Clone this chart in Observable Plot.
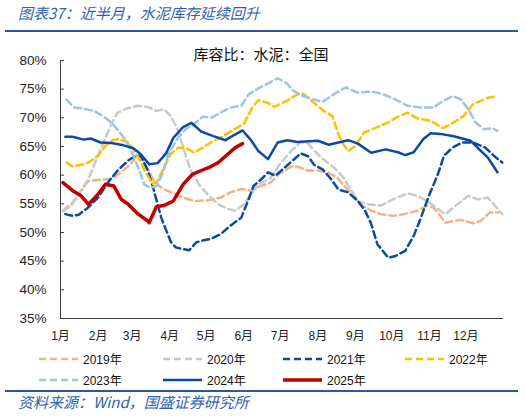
<!DOCTYPE html>
<html><head><meta charset="utf-8">
<script src="https://cdn.jsdelivr.net/npm/d3@7"></script>
<script src="https://cdn.jsdelivr.net/npm/@observablehq/plot@0.6"></script>
<style>
body{margin:0;width:526px;height:416px;position:relative;background:#fff;overflow:hidden;font-family:"Liberation Sans","Noto Sans CJK SC",sans-serif}
#title{position:absolute;left:18px;top:2px;font-family:"Noto Sans CJK SC",sans-serif;font-size:15px;font-style:italic;color:#2F62AE;line-height:22px;white-space:nowrap}
.rule{position:absolute;left:5px;width:513px;height:2px;background:#2F5597}
#chart{position:absolute;left:0;top:33px}
.item{position:absolute;height:16px;display:flex;align-items:center;font-size:12px;color:#111;white-space:nowrap}
.item svg{margin-right:5px}
#source{position:absolute;left:18px;top:391px;font-family:"Noto Sans CJK SC",sans-serif;font-size:15px;font-style:italic;color:#2F62AE;line-height:22px;white-space:nowrap}
</style></head>
<body>
<div id="title"></div>
<div class="rule" style="top:30px"></div>
<div id="chart"></div>
<div id="legend"></div>
<div class="rule" style="top:390px"></div>
<div id="source"></div>
<script>
const titleText = "图表37：近半月，水泥库存延续回升";
const subtitleText = "库容比：水泥：全国";
const sourceText = "资料来源：Wind，国盛证券研究所";
const yTicks = [35,40,45,50,55,60,65,70,75,80];
const monthTicks = [0,31,59,90,120,151,181,212,243,273,304,334];
const monthLabels = ["1月","2月","3月","4月","5月","6月","7月","8月","9月","10月","11月","12月"];
const seriesNames = ["2019年","2020年","2021年","2022年","2023年","2024年","2025年"];

// [day of year, 库容比 %]
const s2019 = [[2,53.8],[10,55.2],[17,57.3],[23,59.0],[33,59.2],[42,59.4],[48,60.2],[56,61.6],[62,63.1],[66,63.4],[72,61.0],[77,59.0],[83,57.8],[91,57.0],[101,56.1],[110,55.5],[121,55.6],[132,56.1],[140,57.0],[149,57.6],[157,57.3],[165,58.1],[173,58.7],[180,60.2],[190,61.5],[195,61.5],[204,60.8],[212,60.8],[220,60.5],[228,59.6],[235,57.8],[242,56.4],[247,54.9],[256,53.8],[264,53.2],[274,52.9],[283,53.2],[294,53.8],[302,54.7],[307,54.4],[313,52.9],[317,51.7],[324,52.0],[330,52.2],[340,51.6],[346,52.0],[354,53.5],[361,53.5]];
const s2020 = [[2,53.7],[9,54.7],[15,56.7],[23,59.3],[29,62.5],[36,66.0],[42,68.9],[47,70.9],[54,71.6],[64,72.1],[72,71.9],[79,71.2],[85,71.5],[91,70.3],[97,67.7],[102,64.2],[107,61.0],[114,58.4],[121,56.7],[130,54.9],[138,54.1],[144,53.8],[151,54.9],[159,57.3],[163,58.4],[167,58.8],[173,59.5],[181,62.0],[190,64.2],[198,65.8],[204,65.5],[209,64.3],[214,63.2],[220,62.2],[227,61.0],[233,59.6],[239,57.5],[245,55.5],[253,54.9],[264,54.7],[274,55.8],[286,56.8],[294,56.4],[302,55.5],[311,54.1],[317,53.2],[327,54.9],[336,56.4],[344,55.8],[352,56.1],[357,54.9],[364,53.2]];
const s2021 = [[4,53.2],[10,52.9],[15,53.1],[23,54.4],[31,56.1],[39,58.7],[47,60.8],[56,62.6],[62,63.4],[66,63.4],[72,60.8],[77,57.3],[83,52.6],[85,51.5],[91,48.3],[95,47.4],[101,47.1],[106,46.9],[112,48.3],[117,48.6],[124,48.9],[132,49.7],[140,51.2],[149,52.6],[155,55.8],[159,58.1],[167,59.6],[171,60.5],[177,59.9],[183,61.0],[191,62.5],[198,63.8],[204,63.3],[209,61.8],[216,61.0],[223,59.3],[229,57.5],[237,57.0],[245,55.5],[251,53.8],[256,51.5],[261,48.0],[270,45.6],[276,45.9],[284,46.8],[291,49.4],[297,52.6],[303,56.1],[311,60.2],[316,63.4],[323,64.8],[331,65.7],[340,65.7],[350,64.8],[357,63.4],[364,62.2]];
const s2022 = [[5,62.2],[10,61.5],[17,61.8],[23,62.2],[31,63.4],[37,65.1],[43,66.1],[48,66.3],[56,65.7],[60,64.5],[65,62.8],[70,60.5],[76,58.5],[80,59.0],[85,61.3],[91,63.7],[97,64.8],[103,64.8],[110,63.9],[117,64.8],[126,66.0],[134,66.8],[143,68.0],[151,68.9],[158,71.8],[163,73.1],[171,72.6],[176,71.9],[186,72.9],[195,74.1],[200,74.2],[209,72.6],[217,71.2],[224,70.3],[229,67.1],[233,65.4],[237,64.2],[243,65.1],[250,67.4],[260,68.3],[270,69.2],[278,70.2],[286,70.9],[294,69.9],[305,69.5],[315,68.2],[324,69.2],[332,70.3],[340,72.4],[352,73.5],[360,73.8]];
const s2023 = [[5,73.2],[11,71.8],[19,71.6],[28,71.2],[35,70.3],[42,69.2],[48,67.7],[54,66.0],[60,63.4],[65,60.8],[69,58.4],[74,57.8],[79,58.1],[84,60.2],[89,63.7],[97,66.6],[103,68.0],[110,68.9],[117,70.2],[124,70.0],[132,70.9],[140,71.8],[149,72.1],[155,74.1],[162,75.0],[171,76.0],[179,76.9],[186,76.1],[192,74.7],[200,73.8],[208,73.2],[216,72.8],[225,74.1],[235,75.3],[245,74.4],[256,74.6],[266,74.1],[276,73.2],[286,72.1],[297,71.8],[307,71.8],[315,72.9],[323,73.8],[330,73.2],[336,71.5],[342,69.2],[349,68.0],[356,68.2],[360,67.7]];
const s2024 = [[4,66.7],[10,66.7],[19,66.2],[25,66.4],[33,65.7],[42,65.6],[52,65.2],[60,64.7],[66,63.7],[73,61.9],[80,62.1],[87,63.8],[93,66.5],[101,68.4],[108,69.1],[116,67.6],[126,66.8],[136,66.1],[143,67.0],[150,67.8],[157,66.1],[163,64.2],[171,62.8],[179,65.7],[187,66.1],[195,65.8],[212,66.0],[221,65.3],[237,66.1],[245,65.5],[256,63.9],[268,64.5],[278,64.0],[284,63.5],[291,64.0],[299,66.3],[305,67.3],[313,67.2],[324,66.8],[338,66.0],[344,64.7],[352,63.1],[360,60.5]];
const s2025 = [[2,58.7],[10,57.3],[17,56.4],[23,54.9],[31,56.7],[37,58.4],[44,58.1],[50,55.8],[56,54.9],[64,53.2],[72,52.0],[73,51.7],[79,54.5],[85,54.7],[93,55.5],[101,58.4],[109,60.2],[117,60.9],[124,61.5],[130,62.2],[138,63.7],[144,64.8],[150,65.5]];

const seriesData = [s2019,s2020,s2021,s2022,s2023,s2024,s2025];
const colors = ["#F4B183","#C9C9C9","#0B4AA2","#FFC000","#9DC3E6","#0B4AA2","#C00000"];
const dashes = ["7,4","7,4","7,4","7,4","7,4",null,null];
const widths = [2.5,2.5,2.5,2.5,2.5,2.5,3.5];

document.getElementById("title").textContent = titleText;
document.getElementById("source").textContent = sourceText;

const axisColor = "#404040";
const marks = [
  Plot.ruleY([35], {stroke: axisColor, strokeWidth: 1}),
  Plot.ruleX([0], {y1: 35, y2: 80, stroke: axisColor, strokeWidth: 1}),
  Plot.ruleY(yTicks, {x1: 0, x2: 3.3, stroke: axisColor, strokeWidth: 1}),
  Plot.axisY(yTicks, {tickSize: 0, tickPadding: 14, tickFormat: d => d + "%", fontSize: 13.5, fill: "#222"}),
  Plot.axisX(monthTicks, {tickSize: 0, tickPadding: 13, tickFormat: d => monthLabels[monthTicks.indexOf(d)], fontSize: 12, fill: "#222"}),
  Plot.text([subtitleText], {text: d => d, frameAnchor: "top", lineAnchor: "middle", dy: -5, dx: -21, fontSize: 15, fill: "#111", fontFamily: "Noto Sans CJK SC", letterSpacing: "1px"})
];
seriesData.forEach((s, i) => {
  marks.push(Plot.line(s, {x: d => d[0], y: d => d[1], stroke: colors[i], strokeWidth: widths[i], strokeDasharray: dashes[i] || undefined, strokeLinejoin: "round"}));
});

const chart = Plot.plot({
  width: 526, height: 312,
  marginLeft: 60, marginRight: 23, marginTop: 27, marginBottom: 27,
  x: {domain: [0, 365], axis: null},
  y: {domain: [35, 80], axis: null},
  style: {fontFamily: "'Liberation Sans','Noto Sans CJK SC',sans-serif", color: "#222", background: "transparent"},
  marks
});
document.getElementById("chart").appendChild(chart);

// legend
const legendLeft = [39,163,283,405];
const legendTop = [350.5, 371.5];
const legend = document.getElementById("legend");
seriesNames.forEach((name, i) => {
  const col = i % 4, row = Math.floor(i / 4);
  const div = document.createElement("div");
  div.className = "item";
  div.style.left = legendLeft[col] + "px";
  div.style.top = legendTop[row] + "px";
  const dash = dashes[i] ? ` stroke-dasharray="${dashes[i]}"` : "";
  div.innerHTML = `<svg width="39" height="6"><line x1="0" y1="3" x2="39" y2="3" stroke="${colors[i]}" stroke-width="${widths[i]}"${dash}/></svg><span>${name}</span>`;
  legend.appendChild(div);
});
</script>
</body></html>
